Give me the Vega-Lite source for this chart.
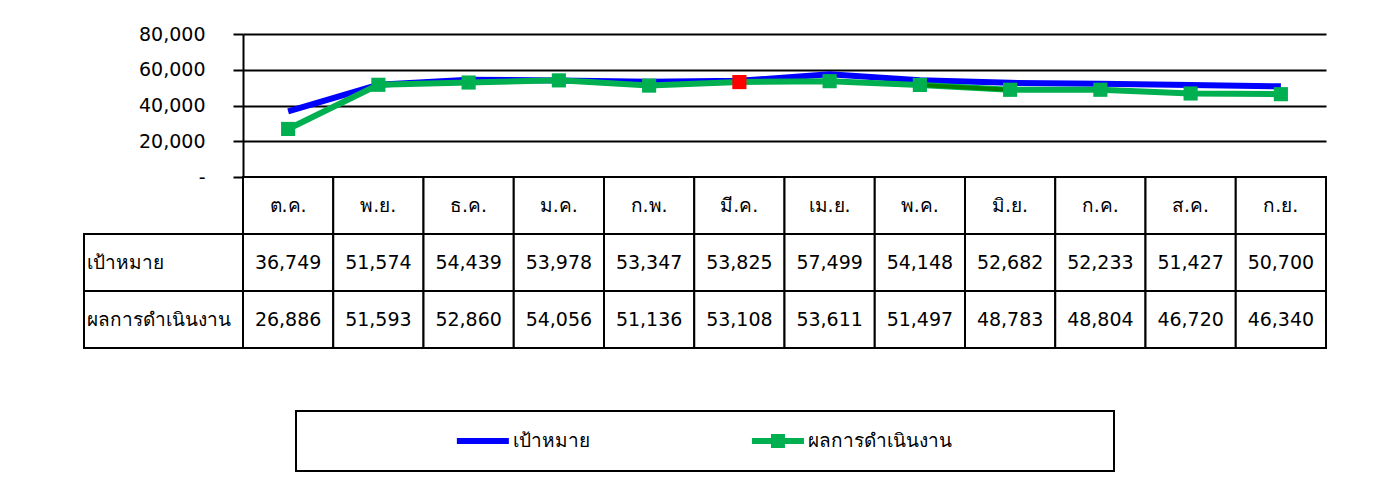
{
  "$schema": "https://vega.github.io/schema/vega-lite/v6.json",
  "padding": {"left": 83, "top": 25, "right": 0, "bottom": 0},
  "background": "white",
  "config": {
    "font": "DejaVu Sans",
    "text": {"font": "DejaVu Sans", "color": "black"}
  },
  "datasets": {
    "m": [
      {"month": "ต.ค.", "target": 36749, "actual": 26886},
      {"month": "พ.ย.", "target": 51574, "actual": 51593},
      {"month": "ธ.ค.", "target": 54439, "actual": 52860},
      {"month": "ม.ค.", "target": 53978, "actual": 54056},
      {"month": "ก.พ.", "target": 53347, "actual": 51136},
      {"month": "มี.ค.", "target": 53825, "actual": 53108},
      {"month": "เม.ย.", "target": 57499, "actual": 53611},
      {"month": "พ.ค.", "target": 54148, "actual": 51497},
      {"month": "มิ.ย.", "target": 52682, "actual": 48783},
      {"month": "ก.ค.", "target": 52233, "actual": 48804},
      {"month": "ส.ค.", "target": 51427, "actual": 46720},
      {"month": "ก.ย.", "target": 50700, "actual": 46340}
    ],
    "rows": [
      {"row": "target", "label": "เป้าหมาย"},
      {"row": "actual", "label": "ผลการดำเนินงาน"}
    ],
    "series": [
      {"series": "เป้าหมาย"},
      {"series": "ผลการดำเนินงาน"}
    ]
  },
  "center": true,
  "spacing": 61,
  "vconcat": [
    {
      "bounds": "flush",
      "spacing": 0,
      "hconcat": [
        {
          "width": 159,
          "height": 314,
          "view": {"stroke": null},
          "data": {"name": "rows"},
          "encoding": {
            "y": {"field": "row", "type": "nominal", "scale": {"domain": ["header", "target", "actual"], "range": [143, 314]}, "axis": null}
          },
          "layer": [
            {
              "mark": {"type": "rect", "fill": "white", "stroke": "black", "strokeWidth": 2},
              "encoding": {"x": {"value": 0}, "x2": {"value": "width"}}
            },
            {
              "mark": {"type": "text", "align": "left", "fontSize": 19, "dx": 3},
              "encoding": {"x": {"value": 0}, "text": {"field": "label"}}
            }
          ]
        },
        {
          "bounds": "flush",
          "spacing": 0,
          "vconcat": [
            {
              "width": 1083,
              "height": 143,
              "view": {"stroke": null},
              "data": {"name": "m"},
              "transform": [{"fold": ["target", "actual"], "as": ["row", "value"]}],
              "encoding": {
                "x": {"field": "month", "type": "ordinal", "sort": null, "scale": {"type": "point", "padding": 0.5}, "axis": null},
                "y": {
                  "field": "value", "type": "quantitative",
                  "scale": {"domain": [0, 80000], "nice": false},
                  "axis": {
                    "values": [0, 20000, 40000, 60000, 80000],
                    "title": null,
                    "labelOverlap": false,
                    "grid": true, "gridColor": "black", "gridWidth": 2, "gridOpacity": 1,
                    "tickColor": "black", "tickSize": 10, "tickWidth": 2,
                    "domainColor": "black", "domainWidth": 2,
                    "labelPadding": 28, "labelFontSize": 19, "labelFont": "DejaVu Sans", "labelColor": "black",
                    "labelExpr": "datum.value === 0 ? '-' : format(datum.value, ',')"
                  }
                }
              },
              "layer": [
                {
                  "transform": [{"filter": {"field": "row", "equal": "target"}}],
                  "mark": {"type": "line", "color": "#0000FF", "strokeWidth": 6}
                },
                {
                  "transform": [{"filter": {"field": "row", "equal": "actual"}}],
                  "mark": {"type": "line", "color": "#00B050", "strokeWidth": 6}
                },
                {
                  "transform": [{"filter": {"field": "row", "equal": "actual"}}, {"filter": {"field": "month", "oneOf": ["พ.ค.", "มิ.ย."]}}],
                  "mark": {"type": "line", "color": "#008000", "strokeWidth": 4}
                },
                {
                  "transform": [{"filter": {"field": "row", "equal": "actual"}}],
                  "mark": {"type": "square", "size": 200, "opacity": 1, "filled": true},
                  "encoding": {
                    "color": {"condition": {"test": "datum.month === 'มี.ค.'", "value": "#FF0000"}, "value": "#00B050"}
                  }
                }
              ]
            },
            {
              "width": 1083,
              "height": 171,
              "view": {"stroke": null},
              "data": {"name": "m"},
              "encoding": {
                "x": {"field": "month", "type": "ordinal", "sort": null, "scale": {"type": "band", "paddingInner": 0, "paddingOuter": 0}, "axis": null}
              },
              "layer": [
                {
                  "mark": {"type": "rect", "fill": "white", "stroke": "black", "strokeWidth": 2},
                  "encoding": {"y": {"datum": "header", "type": "nominal", "scale": {"domain": ["header", "target", "actual"]}, "axis": null}}
                },
                {
                  "mark": {"type": "text", "fontSize": 19},
                  "encoding": {
                    "y": {"datum": "header", "type": "nominal"},
                    "text": {"field": "month"}
                  }
                },
                {
                  "transform": [{"fold": ["target", "actual"], "as": ["row", "value"]}],
                  "layer": [
                    {
                      "mark": {"type": "rect", "fill": "white", "stroke": "black", "strokeWidth": 2},
                      "encoding": {"y": {"field": "row", "type": "nominal"}}
                    },
                    {
                      "mark": {"type": "text", "fontSize": 19},
                      "encoding": {
                        "y": {"field": "row", "type": "nominal"},
                        "text": {"field": "value", "type": "quantitative", "format": ","}
                      }
                    }
                  ]
                }
              ]
            }
          ]
        }
      ]
    },
    {
      "width": 818,
      "height": 60,
      "view": {"stroke": "black", "strokeWidth": 2},
      "data": {"name": "series"},
      "encoding": {
        "x": {"field": "series", "type": "nominal", "sort": null, "scale": {"type": "point", "padding": 0.886, "align": 0.409}, "axis": null}
      },
      "layer": [
        {
          "mark": {"type": "point", "shape": "M-1,-0.12L1,-0.12L1,0.12L-1,0.12Z", "size": 2704, "filled": true, "opacity": 1, "xOffset": -27},
          "encoding": {
            "color": {"field": "series", "type": "nominal", "scale": {"domain": ["เป้าหมาย", "ผลการดำเนินงาน"], "range": ["#0000FF", "#00B050"]}, "legend": null}
          }
        },
        {
          "transform": [{"filter": {"field": "series", "equal": "ผลการดำเนินงาน"}}],
          "mark": {"type": "square", "size": 196, "filled": true, "opacity": 1, "color": "#00B050", "xOffset": -27}
        },
        {
          "mark": {"type": "text", "align": "left", "fontSize": 19, "dx": 3},
          "encoding": {"text": {"field": "series"}}
        }
      ]
    }
  ]
}
